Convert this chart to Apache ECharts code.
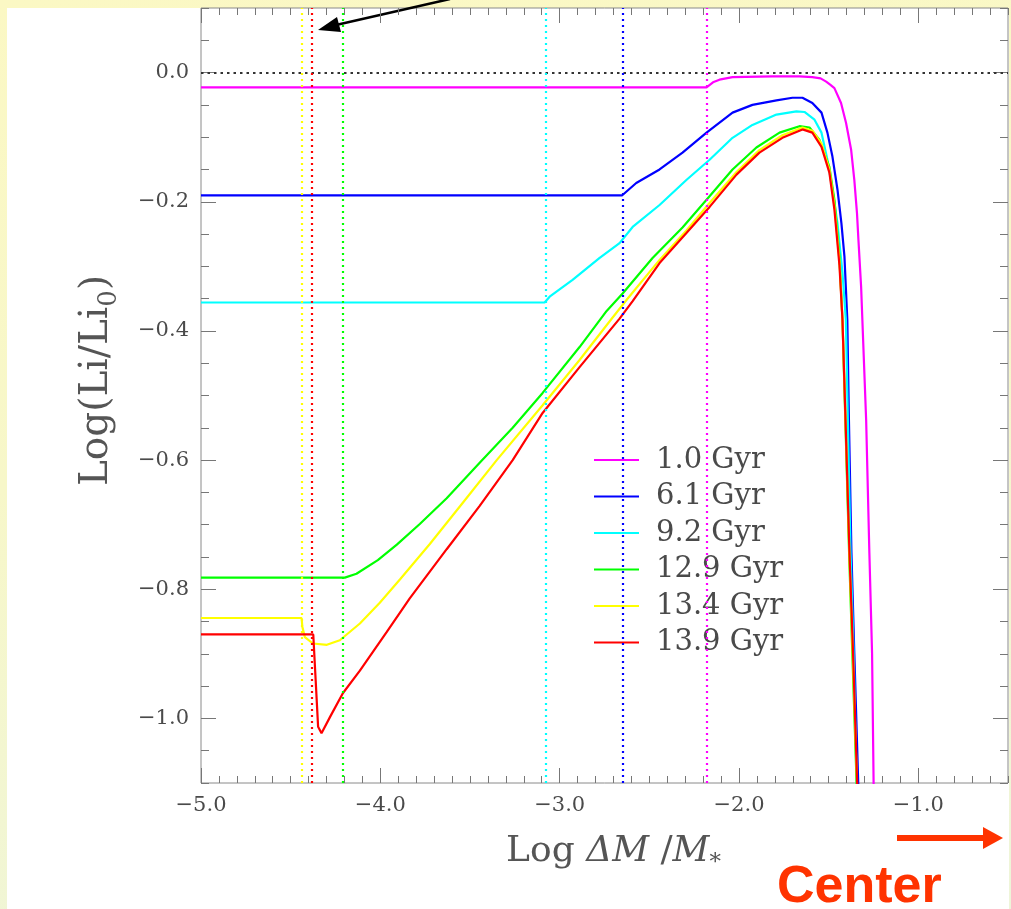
<!DOCTYPE html>
<html>
<head>
<meta charset="utf-8">
<script src="https://cdn.jsdelivr.net/npm/echarts@6/dist/echarts.min.js"></script>
<style>
  html, body { margin: 0; padding: 0; width: 1011px; height: 909px; overflow: hidden; }
  body { background: linear-gradient(170deg, #fbf8c4 0%, #f7f7c9 45%, #eef5d9 100%); }
  #sheet { position: absolute; left: 7px; top: 8px; width: 1002px; height: 901px; background: #ffffff; }
  #chart { position: absolute; left: 0; top: 0; width: 1011px; height: 909px; }
</style>
</head>
<body>
<div id="sheet"></div>
<div id="chart"></div>
<script>
// Lithium depletion profiles: Log(Li/Li0) versus mass depth Log(ΔM/M*), one curve per age.
const ageLabels = ['1.0 Gyr', '6.1 Gyr', '9.2 Gyr', '12.9 Gyr', '13.4 Gyr', '13.9 Gyr'];

// Depth where each profile leaves its surface plateau (dotted verticals).
const depletionEdge = [-2.18, -2.65, -3.08, -4.21, -4.44, -4.38];

const li_1_0 = [[-5.0,-0.023],[-2.181,-0.023],[-2.145,-0.015],[-2.109,-0.011],[-2.036,-0.007],[-1.813,-0.006],[-1.663,-0.006],[-1.591,-0.007],[-1.545,-0.009],[-1.514,-0.014],[-1.490,-0.019],[-1.468,-0.024],[-1.431,-0.047],[-1.403,-0.078],[-1.375,-0.119],[-1.357,-0.166],[-1.342,-0.218],[-1.334,-0.259],[-1.319,-0.332],[-1.291,-0.538],[-1.273,-0.744],[-1.258,-0.899],[-1.249,-1.11]];

const li_6_1 = [[-5.0,-0.190],[-2.651,-0.190],[-2.573,-0.171],[-2.443,-0.150],[-2.315,-0.124],[-2.181,-0.093],[-2.036,-0.062],[-1.925,-0.050],[-1.791,-0.043],[-1.702,-0.039],[-1.646,-0.039],[-1.591,-0.047],[-1.540,-0.062],[-1.507,-0.093],[-1.479,-0.130],[-1.451,-0.181],[-1.429,-0.233],[-1.412,-0.285],[-1.396,-0.383],[-1.387,-0.538],[-1.373,-0.744],[-1.357,-0.899],[-1.334,-1.11]];

const li_9_2 = [[-5.0,-0.356],[-3.084,-0.356],[-3.056,-0.347],[-2.928,-0.321],[-2.777,-0.287],[-2.666,-0.264],[-2.593,-0.239],[-2.443,-0.205],[-2.292,-0.166],[-2.164,-0.135],[-2.036,-0.101],[-1.925,-0.081],[-1.791,-0.065],[-1.680,-0.060],[-1.635,-0.061],[-1.579,-0.073],[-1.540,-0.093],[-1.507,-0.135],[-1.479,-0.181],[-1.451,-0.233],[-1.423,-0.310],[-1.404,-0.383],[-1.393,-0.538],[-1.378,-0.744],[-1.361,-0.899],[-1.343,-1.11]];

const li_12_9 = [[-5.0,-0.782],[-4.198,-0.782],[-4.133,-0.776],[-4.014,-0.755],[-3.908,-0.731],[-3.780,-0.699],[-3.630,-0.659],[-3.446,-0.604],[-3.262,-0.550],[-3.095,-0.496],[-2.889,-0.425],[-2.738,-0.369],[-2.649,-0.342],[-2.482,-0.287],[-2.315,-0.240],[-2.181,-0.197],[-2.036,-0.150],[-1.903,-0.116],[-1.774,-0.093],[-1.663,-0.083],[-1.607,-0.085],[-1.552,-0.104],[-1.496,-0.146],[-1.468,-0.197],[-1.440,-0.285],[-1.423,-0.383],[-1.407,-0.538],[-1.386,-0.744],[-1.368,-0.899],[-1.343,-1.11]];

const li_13_4 = [[-5.0,-0.8445],[-4.439,-0.8445],[-4.435,-0.858],[-4.421,-0.874],[-4.376,-0.884],[-4.298,-0.886],[-4.226,-0.879],[-4.114,-0.853],[-4.003,-0.821],[-3.891,-0.785],[-3.724,-0.730],[-3.540,-0.666],[-3.351,-0.600],[-3.095,-0.515],[-2.889,-0.445],[-2.721,-0.385],[-2.624,-0.351],[-2.443,-0.290],[-2.292,-0.244],[-2.164,-0.202],[-2.014,-0.154],[-1.886,-0.120],[-1.758,-0.097],[-1.646,-0.085],[-1.591,-0.090],[-1.540,-0.110],[-1.496,-0.150],[-1.468,-0.205],[-1.440,-0.291],[-1.423,-0.383],[-1.406,-0.538],[-1.385,-0.744],[-1.366,-0.899],[-1.341,-1.11]];

const li_13_9 = [[-5.0,-0.870],[-4.374,-0.870],[-4.347,-1.013],[-4.328,-1.023],[-4.281,-0.998],[-4.209,-0.961],[-4.114,-0.926],[-3.964,-0.866],[-3.836,-0.814],[-3.630,-0.738],[-3.446,-0.671],[-3.262,-0.600],[-3.095,-0.527],[-2.889,-0.456],[-2.666,-0.381],[-2.593,-0.354],[-2.443,-0.295],[-2.292,-0.248],[-2.164,-0.208],[-2.014,-0.158],[-1.886,-0.124],[-1.758,-0.101],[-1.646,-0.088],[-1.591,-0.093],[-1.540,-0.115],[-1.496,-0.155],[-1.468,-0.212],[-1.440,-0.298],[-1.423,-0.383],[-1.406,-0.538],[-1.384,-0.744],[-1.364,-0.899],[-1.340,-1.11]];

const profiles = [li_1_0, li_6_1, li_9_2, li_12_9, li_13_4, li_13_9];

// Axis ranges and labelled ticks
const xRange = [-5.0, -0.5];
const yRange = [-1.1, 0.1];
const xMajor = [-5.0, -4.0, -3.0, -2.0, -1.0];
const yMajor = [-1.0, -0.8, -0.6, -0.4, -0.2, 0.0];

function steps(a, b, step) {
  const out = [];
  const n = Math.round((b - a) / step);
  for (let i = 0; i <= n; i++) out.push(+(a + i * step).toFixed(3));
  return out;
}
const xMinor = steps(xRange[0], xRange[1], 0.1);
const yMinor = steps(yRange[0], yRange[1], 0.05);

const lineColors = ['#ff00ff', '#0000ff', '#00ffff', '#00ff00', '#ffff00', '#ff0000'];
const tickColor = '#777';
const serif = '"DejaVu Serif", "Liberation Serif", serif';
const textGrey = '#4a4a4a';

const fmt = v => (v < -1e-9 ? '\u2212' : '') + Math.abs(v).toFixed(1);

function xAxisDef(pos, ticks, len, withLabels) {
  return {
    type: 'value', position: pos, min: xRange[0], max: xRange[1],
    axisLine: { show: false, onZero: false },
    splitLine: { show: false },
    axisTick: { show: true, inside: true, length: len, customValues: ticks, lineStyle: { color: tickColor, width: 1 } },
    axisLabel: withLabels
      ? { show: true, customValues: xMajor, formatter: fmt, margin: 12, fontFamily: serif, fontSize: 21, color: textGrey }
      : { show: false }
  };
}
function yAxisDef(pos, ticks, len, withLabels) {
  return {
    type: 'value', position: pos, min: yRange[0], max: yRange[1],
    axisLine: { show: false, onZero: false },
    splitLine: { show: false },
    axisTick: { show: true, inside: true, length: len, customValues: ticks, lineStyle: { color: tickColor, width: 1 } },
    axisLabel: withLabels
      ? { show: true, customValues: yMajor, formatter: fmt, margin: 12, fontFamily: serif, fontSize: 21, color: textGrey }
      : { show: false }
  };
}

const xAxes = [
  xAxisDef('bottom', xMinor, 7, true),
  xAxisDef('bottom', xMajor, 15, false),
  xAxisDef('top', xMinor, 7, false),
  xAxisDef('top', xMajor, 15, false)
];
xAxes[0].name = '{n|Log }{i|\u0394M}{n| /}{i|M}{s|*}';
xAxes[0].nameLocation = 'middle';
xAxes[0].nameGap = 45;
xAxes[0].nameTextStyle = {
  color: '#555',
  padding: [0, 0, 0, 18],
  rich: {
    n: { fontFamily: serif, fontSize: 36, color: '#555' },
    i: { fontFamily: serif, fontSize: 36, fontStyle: 'italic', color: '#555' },
    s: { fontFamily: serif, fontSize: 23, color: '#555', padding: [24, 0, 0, 0] }
  }
};

const yAxes = [
  yAxisDef('left', yMinor, 8, false),
  yAxisDef('left', yMajor, 15, true),
  yAxisDef('right', yMinor, 8, false),
  yAxisDef('right', yMajor, 15, false)
];
yAxes[1].name = '{n|Log(Li/Li}{s|0}{n|)}';
yAxes[1].nameLocation = 'middle';
yAxes[1].nameGap = 79;
yAxes[1].nameTextStyle = {
  color: '#555',
  padding: [0, 0, 0, 30],
  rich: {
    n: { fontFamily: serif, fontSize: 39, color: '#555' },
    s: { fontFamily: serif, fontSize: 26, color: '#555', padding: [24, 0, 0, 0] }
  }
};

const series = profiles.map((pts, i) => {
  const marks = [{ xAxis: depletionEdge[i], lineStyle: { color: lineColors[i], type: [2, 4], width: 2.2 } }];
  if (i === 0) marks.push({ yAxis: 0, lineStyle: { color: '#333', type: [2.5, 4], width: 1.8 } });
  return {
    name: ageLabels[i],
    type: 'line',
    data: pts,
    xAxisIndex: 0,
    yAxisIndex: 0,
    symbol: 'none',
    smooth: false,
    clip: true,
    lineStyle: { color: lineColors[i], width: 2.2 },
    itemStyle: { color: lineColors[i] },
    markLine: {
      silent: true,
      symbol: ['none', 'none'],
      label: { show: false },
      data: marks
    }
  };
});

const chart = echarts.init(document.getElementById('chart'), null, { renderer: 'canvas' });
chart.setOption({
  animation: false,
  backgroundColor: 'transparent',
  grid: { left: 201, right: 3, top: 8, bottom: 126, show: true, borderColor: '#8a8a8a', borderWidth: 1, backgroundColor: 'transparent' },
  xAxis: xAxes,
  yAxis: yAxes,
  legend: {
    orient: 'vertical',
    left: 589,
    top: 437,
    icon: 'rect',
    itemWidth: 45,
    itemHeight: 2,
    itemGap: 0.5,
    selectedMode: false,
    data: ageLabels,
    textStyle: { fontFamily: serif, fontSize: 29, color: textGrey, lineHeight: 28, padding: [0, 0, 8, 12] }
  },
  series: series,
  graphic: [
    // pointer arrow entering from above the frame
    { type: 'line', shape: { x1: 450, y1: -1, x2: 336, y2: 25 }, style: { stroke: '#000', lineWidth: 2.5 } },
    { type: 'polygon', shape: { points: [[318, 30], [341, 32], [337, 17]] }, style: { fill: '#000' } },
    // direction to the stellar center
    { type: 'rect', shape: { x: 897, y: 835, width: 88, height: 6 }, style: { fill: '#ff3300' } },
    { type: 'polygon', shape: { points: [[983, 827], [1003, 838], [983, 849]] }, style: { fill: '#ff3300' } },
    { type: 'text', x: 777, y: 888, style: { text: 'Center', font: 'bold 52px "Liberation Sans", Arial, sans-serif', fill: '#ff3300', textAlign: 'left', textVerticalAlign: 'middle' } }
  ]
});
</script>
</body>
</html>
